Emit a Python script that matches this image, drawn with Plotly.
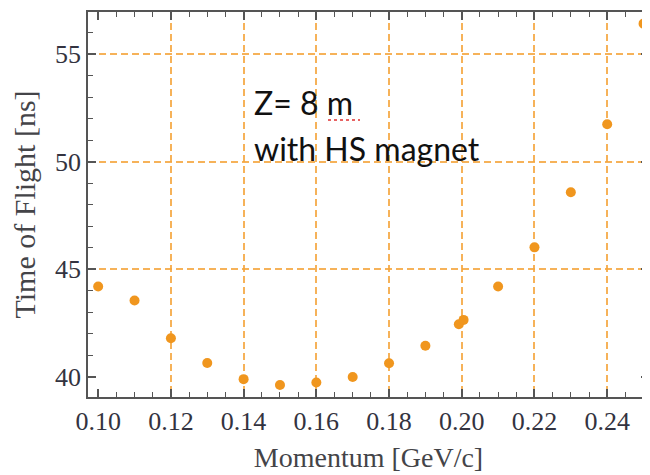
import plotly.graph_objects as go

momentum = [0.10, 0.11, 0.12, 0.13, 0.14, 0.15, 0.16, 0.17, 0.18, 0.19,
            0.1992, 0.2005, 0.21, 0.22, 0.23, 0.24, 0.25]
tof = [44.2, 43.55, 41.8, 40.65, 39.9, 39.63, 39.74, 40.0, 40.64, 41.45,
       42.45, 42.65, 44.2, 46.02, 48.58, 51.74, 56.41]

x_ticks = [0.10, 0.12, 0.14, 0.16, 0.18, 0.20, 0.22, 0.24]
x_tick_labels = ["0.10", "0.12", "0.14", "0.16", "0.18", "0.20", "0.22", "0.24"]
y_ticks = [40, 45, 50, 55]
x_grid = [0.12, 0.14, 0.16, 0.18, 0.20, 0.22, 0.24]
y_grid = [45, 50, 55]

XR = [0.0972, 0.2515]
YR = [39.07, 56.95]

axis_col = "#555555"
grid_col = "rgba(245,165,60,0.85)"
dot_col = "#F0961E"
serif = "Liberation Serif, Times New Roman, serif"
sans = "Lato, Carlito, sans-serif"

# the page body adds an 8px offset, so the figure is 8px smaller than the window
W, H = 642, 467
ML, MR, MT, MB = 80, 1, 4, 78

fig = go.Figure()
fig.add_trace(go.Scatter(x=[XR[0]], y=[YR[0]], xaxis="x2", yaxis="y2",
                         mode="markers", marker=dict(opacity=0), showlegend=False,
                         hoverinfo="skip"))
fig.add_trace(go.Scatter(x=momentum, y=tof, mode="markers",
                         marker=dict(color=dot_col, size=10, line=dict(width=0)),
                         showlegend=False, cliponaxis=False))

fig.update_layout(
    width=W, height=H,
    margin=dict(l=ML, r=MR, t=MT, b=MB, autoexpand=False),
    paper_bgcolor="white", plot_bgcolor="white",
    xaxis=dict(range=XR, tickvals=x_ticks, ticktext=x_tick_labels,
               showgrid=False, zeroline=False, automargin=False,
               showline=True, linecolor=axis_col, linewidth=1.8, mirror="ticks",
               ticks="inside", ticklen=8, tickwidth=1.5, tickcolor=axis_col,
               minor=dict(dtick=0.005, tick0=0.0, ticks="inside", ticklen=5,
                          tickwidth=1.2, tickcolor=axis_col, showgrid=False),
               tickfont=dict(family=serif, size=26, color="#333340"),
               title=dict(text="Momentum [GeV/c]", standoff=12,
                          font=dict(family=serif, size=28, color="#444448"))),
    yaxis=dict(range=YR, tickvals=y_ticks,
               showgrid=False, zeroline=False, automargin=False,
               showline=True, linecolor=axis_col, linewidth=1.8, mirror="ticks",
               ticks="inside", ticklen=8, tickwidth=1.5, tickcolor=axis_col,
               minor=dict(dtick=1, tick0=0, ticks="inside", ticklen=5,
                          tickwidth=1.2, tickcolor=axis_col, showgrid=False),
               tickfont=dict(family=serif, size=26, color="#333340"),
               title=dict(text="Time of Flight [ns]", standoff=10,
                          font=dict(family=serif, size=30, color="#444448"))),
    xaxis2=dict(range=XR, overlaying="x", tickvals=x_grid, showticklabels=False,
                showgrid=True, gridcolor=grid_col, gridwidth=1.5, griddash="7px,4px",
                zeroline=False, showline=False, ticks=""),
    yaxis2=dict(range=YR, overlaying="y", tickvals=y_grid, showticklabels=False,
                showgrid=True, gridcolor=grid_col, gridwidth=1.5, griddash="7px,4px",
                zeroline=False, showline=False, ticks=""),
)

PW = W - ML - MR
PH = H - MT - MB


def px_x(px):
    return (px - 8 - ML) / PW


def px_y(py):
    return 1 - (py - 8 - MT) / PH


fig.add_annotation(text="Z= 8 m", xref="paper", yref="paper", x=px_x(252), y=px_y(103),
                   xanchor="left", yanchor="middle", showarrow=False,
                   font=dict(family=sans, size=32, color="#111111"))
fig.add_annotation(text="with HS magnet", xref="paper", yref="paper", x=px_x(252), y=px_y(148),
                   xanchor="left", yanchor="middle", showarrow=False,
                   font=dict(family=sans, size=32, color="#111111"))
# spell-check squiggle under "m"
fig.add_shape(type="line", xref="paper", yref="paper",
              x0=px_x(328), x1=px_x(360), y0=px_y(120), y1=px_y(120),
              line=dict(color="#e03030", width=1.5, dash="dot"))

fig.write_html("out.html")
